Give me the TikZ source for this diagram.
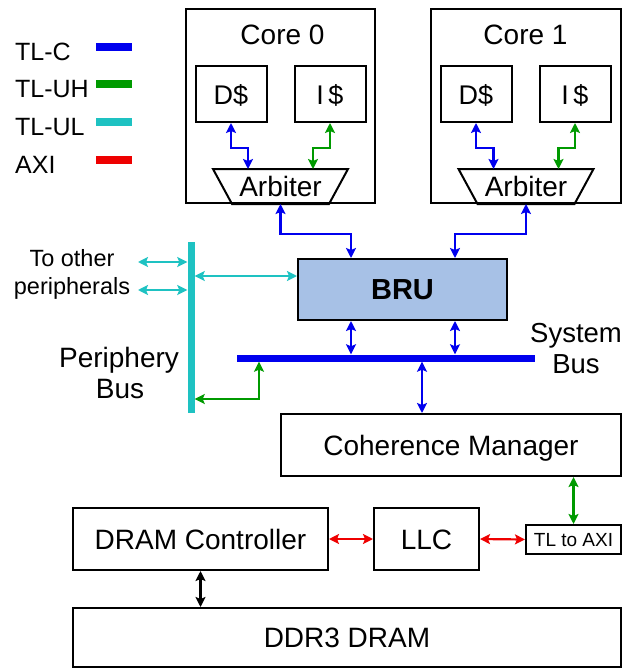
\documentclass[tikz,border=0pt]{standalone}
\usepackage{fontspec}
\setmainfont{Liberation Sans}
\usetikzlibrary{arrows.meta}
\definecolor{cblue}{HTML}{0000EE}
\definecolor{cgreen}{HTML}{009A00}
\definecolor{ccyan}{HTML}{1EC2C2}
\definecolor{cred}{HTML}{EE0000}
\definecolor{brufill}{HTML}{A7C1E6}
\tikzset{
  box/.style={draw, line width=2pt, rectangle, inner sep=0pt, text height=20pt, text depth=0pt, font=\fontsize{28}{32}\selectfont},
  lbl/.style={inner sep=0pt, anchor=base, font=\fontsize{28}{32}\selectfont},
  leg/.style={inner sep=0pt, anchor=base west, font=\fontsize{25}{28}\selectfont},
  conn/.style={line width=2.2pt, {Stealth[length=10pt,width=10pt,inset=2pt]}-{Stealth[length=10pt,width=10pt,inset=2pt]}},
  tlc/.style={conn, draw=cblue, fill=none},
  tluh/.style={conn, draw=cgreen},
  tlul/.style={conn, draw=ccyan},
  axi/.style={conn, draw=cred},
  plain/.style={conn, draw=black},
  bar/.style={line width=8.5pt},
}
\begin{document}
\begin{tikzpicture}[x=1pt,y=-1pt]
\useasboundingbox (0,0) rectangle (623,669);
% legend
\node[leg] (legc) at (15,60) {TL-C};
\node[leg] (leguh) at (15,97) {TL-UH};
\node[leg] (legul) at (15,135) {TL-UL};
\node[leg] (legaxi) at (15,173) {AXI};
\draw[bar, cblue] (96,47) -- (132,47);
\draw[bar, cgreen] (96,84) -- (132,84);
\draw[bar, ccyan] (96,122) -- (132,122);
\draw[bar, cred] (96,160) -- (132,160);
% cores
\node[box, minimum width=189pt, minimum height=194pt] (core0) at (280.5,106) {};
\node[box, minimum width=190pt, minimum height=194pt] (core1) at (526,106) {};
\node[lbl] (core0l) at (282.5,45) {Core 0};
\node[lbl] (core1l) at (525.5,45) {Core 1};
\node[box, minimum width=71pt, minimum height=56pt, font=\fontsize{27}{30}\selectfont] (d0) at (231,94) {D\$};
\node[box, minimum width=71pt, minimum height=56pt, font=\fontsize{27}{30}\selectfont] (i0) at (330,94) {I\,\$};
\node[box, minimum width=71pt, minimum height=56pt, font=\fontsize{27}{30}\selectfont] (d1) at (476,94) {D\$};
\node[box, minimum width=71pt, minimum height=56pt, font=\fontsize{27}{30}\selectfont] (i1) at (575,94) {I\,\$};
\node[box, draw=none, minimum width=95pt, minimum height=33pt] (arb0) at (280.5,186.5) {Arbiter};
\node[box, draw=none, minimum width=95pt, minimum height=33pt] (arb1) at (526,186.5) {Arbiter};
\draw[line width=2pt, line join=miter] ([xshift=-19pt]arb0.north west) -- ([xshift=19pt]arb0.north east) -- (arb0.south east) -- (arb0.south west) -- cycle;
\draw[line width=2pt, line join=miter] ([xshift=-19pt]arb1.north west) -- ([xshift=19pt]arb1.north east) -- (arb1.south east) -- (arb1.south west) -- cycle;
\draw[tlc] (d0.south) -- ++(0,25) -| ([xshift=-32.5pt]arb0.north);
\draw[tluh] (i0.south) -- ++(0,25) -| ([xshift=32.5pt]arb0.north);
\draw[tlc] (d1.south) -- ++(0,25) -| ([xshift=-32.5pt]arb1.north);
\draw[tluh] (i1.south) -- ++(0,25) -| ([xshift=32.5pt]arb1.north);
% BRU and buses
\node[box, fill=brufill, minimum width=209pt, minimum height=61pt, font=\fontsize{29}{32}\selectfont\bfseries] (bru) at (402.5,289.5) {BRU};
\node[rectangle, fill=cblue, inner sep=0pt, minimum width=298pt, minimum height=7pt] (sbus) at (386,358) {};
\node[rectangle, fill=ccyan, inner sep=0pt, minimum width=7pt, minimum height=171pt] (pbus) at (191,327.5) {};
\node[lbl, font=\fontsize{27.5}{32}\selectfont] (sysl1) at (576,342) {System};
\node[lbl, font=\fontsize{27.5}{32}\selectfont] (sysl2) at (576,373) {Bus};
\node[lbl] (perl1) at (119,367) {Periphery};
\node[lbl] (perl2) at (120,398) {Bus};
\node[lbl, font=\fontsize{23.5}{28}\selectfont] (oth1) at (72,266) {To other};
\node[lbl, font=\fontsize{23.5}{28}\selectfont] (oth2) at (72,294) {peripherals};
\draw[tlc] (arb0.south) -- ++(0,30) -| ([xshift=-51.5pt]bru.north);
\draw[tlc] (arb1.south) -- ++(0,30) -| ([xshift=52.5pt]bru.north);
\draw[tlc] ([xshift=-51.5pt]bru.south) -- ([xshift=-51.5pt]bru.south |- sbus.north);
\draw[tlc] ([xshift=52.5pt]bru.south) -- ([xshift=52.5pt]bru.south |- sbus.north);
\coordinate (po1) at (138,262);
\coordinate (po2) at (138,290);
\draw[tlul] (po1) -- (po1 -| pbus.west);
\draw[tlul] (po2) -- (po2 -| pbus.west);
\draw[tlul] ([yshift=13.5pt]bru.west) -- ([yshift=13.5pt]bru.west -| pbus.east);
\draw[tluh] ([yshift=-71.5pt]pbus.east) -| ([xshift=-127pt]sbus.south);
% lower part
\node[box, minimum width=340pt, minimum height=62pt] (cm) at (451,445) {Coherence Manager};
\node[box, minimum width=95pt, minimum height=29pt, text height=13.5pt, font=\fontsize{19}{22}\selectfont] (tl) at (573.5,539.5) {TL to AXI};
\node[box, minimum width=105pt, minimum height=62pt] (llc) at (426.5,539) {LLC};
\node[box, minimum width=255pt, minimum height=62pt] (dram) at (200.5,539) {DRAM Controller};
\node[box, minimum width=548pt, minimum height=59pt] (ddr) at (347,637.5) {DDR3 DRAM};
\draw[tlc] ([xshift=-29pt]cm.north) -- ([xshift=-29pt]cm.north |- sbus.south);
\draw[tluh] (tl.north) -- (tl.north |- cm.south);
\draw[axi] (llc.east) -- (tl.west);
\draw[axi] (dram.east) -- (llc.west);
\draw[plain] (dram.south) -- (dram.south |- ddr.north);
\end{tikzpicture}
\end{document}
